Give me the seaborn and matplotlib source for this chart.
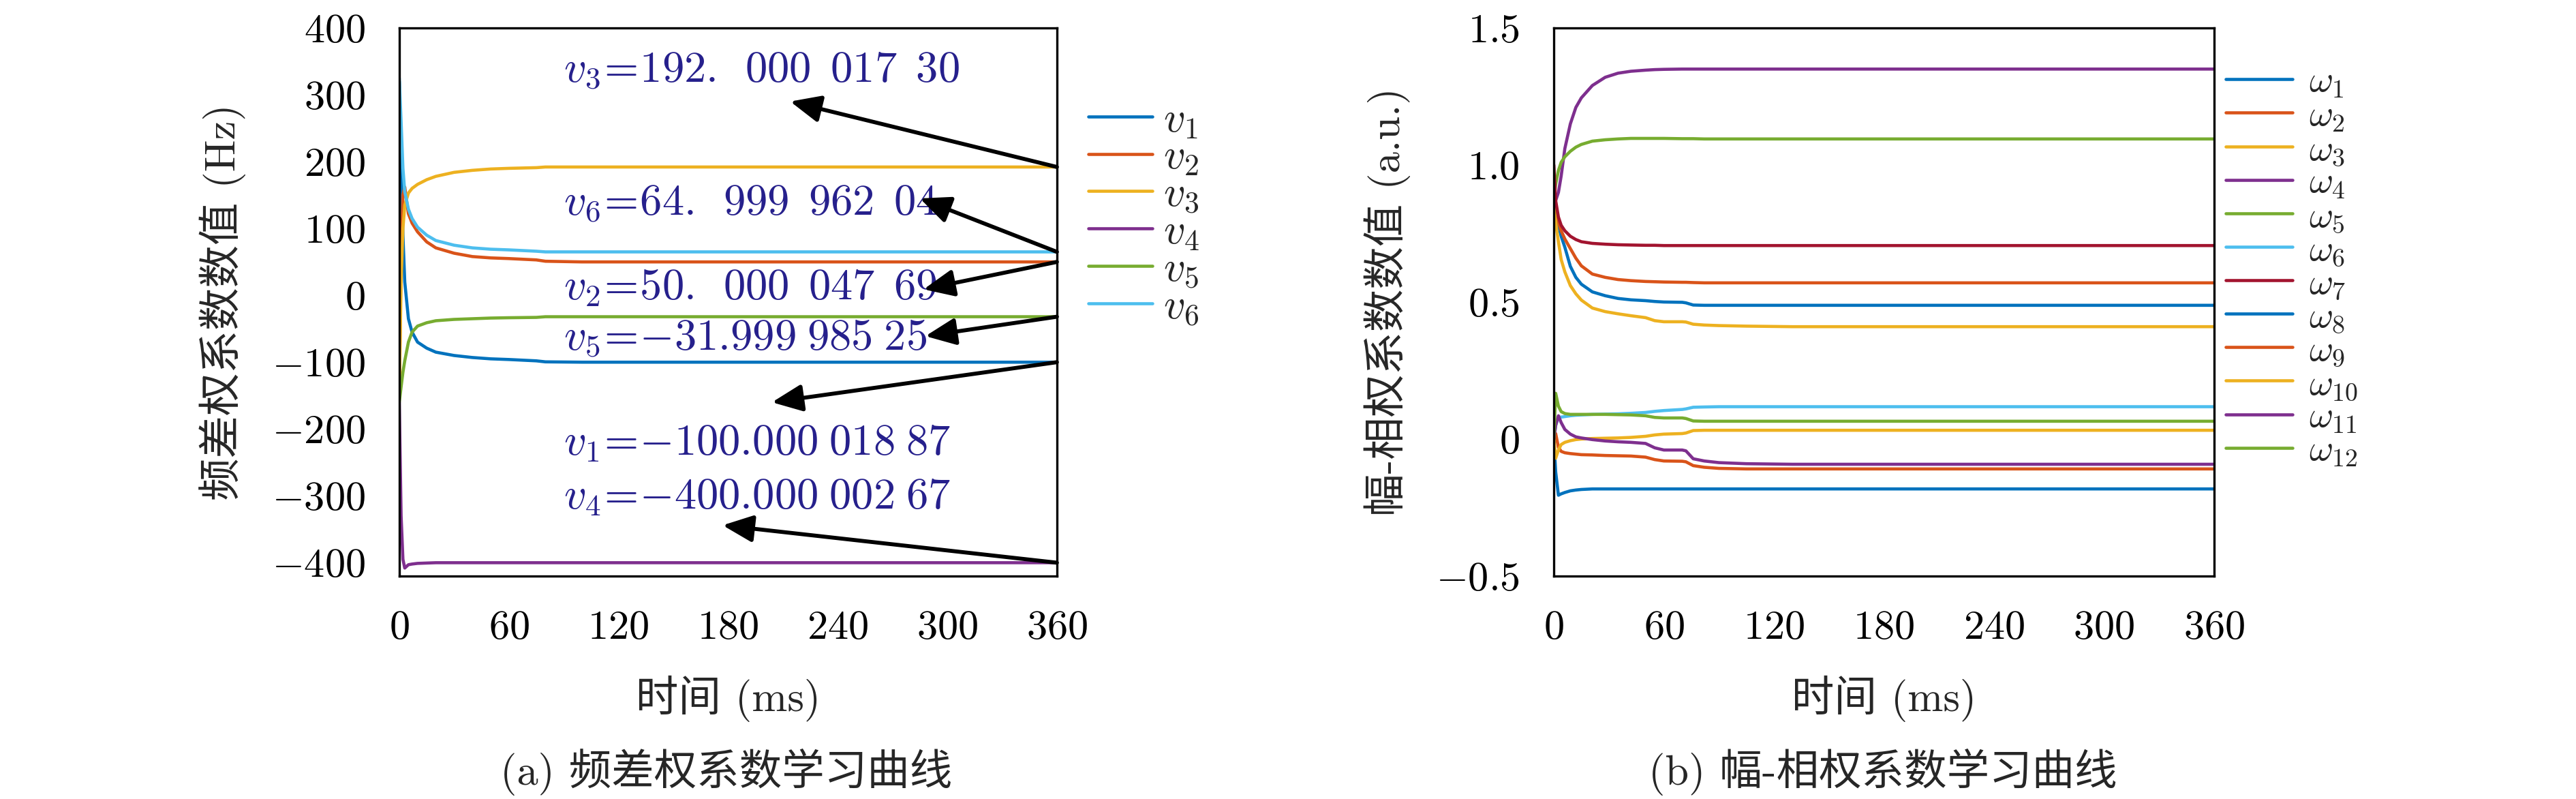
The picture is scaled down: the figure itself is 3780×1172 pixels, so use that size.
import numpy as np
import pandas as pd
import matplotlib
matplotlib.use('Agg')
import matplotlib.pyplot as plt
import seaborn as sns

# MATLAB default colour order (7 colours, then it repeats)
matlab_colors = ['#0072BD', '#D95319', '#EDB120', '#7E2F8E', '#77AC30', '#4DBEEE', '#A2142F']

# ---------------- (a) frequency-difference weights ----------------
t_a = [0, 1, 2, 3, 5, 7, 10, 15, 20, 30, 40, 50, 60, 75, 80, 100, 150, 360]
v1 = [320, 200, 90, 20, -35, -55, -70, -79, -85, -90, -93, -95, -96, -98, -99.5, -100, -100, -100]
v2 = [-150, 60, 150, 162, 122, 108, 95, 80, 71, 63, 58, 56, 55, 53, 51, 50, 50, 50]
v3 = [-150, 20, 100, 135, 153, 160, 166, 173, 178, 184, 187, 189, 190, 191, 192, 192, 192, 192]
v4 = [-160, -330, -395, -408, -403, -402, -401, -400.5, -400, -400, -400, -400, -400, -400, -400, -400, -400, -400]
v5 = [-160, -137, -115, -98, -70, -55, -46, -41, -38, -36, -35, -34, -33.5, -33, -32, -32, -32, -32]
v6 = [325, 260, 190, 155, 129, 115, 102, 90, 82, 75, 71, 69, 68, 66, 65, 65, 65, 65]
names_a = ['$v_1$', '$v_2$', '$v_3$', '$v_4$', '$v_5$', '$v_6$']
yticks_a = [-400, -300, -200, -100, 0, 100, 200, 300, 400]

# ---------------- (b) amplitude-phase weights ----------------
t_b = [0, 1, 2.5, 4, 6, 9, 12, 15, 21, 28, 35, 42, 50, 55, 60, 70, 72, 76, 82, 90, 105, 130, 360]
w1 = [0.85, 0.82, 0.78, 0.74, 0.70, 0.63, 0.59, 0.565, 0.537, 0.523, 0.513, 0.508, 0.505, 0.502, 0.500,
      0.499, 0.497, 0.489, 0.488, 0.488, 0.488, 0.488, 0.488]
w2 = [0.85, 0.82, 0.79, 0.76, 0.73, 0.695, 0.66, 0.632, 0.602, 0.590, 0.582, 0.578, 0.575, 0.574, 0.573,
      0.572, 0.572, 0.571, 0.570, 0.570, 0.570, 0.570, 0.570]
w3 = [0.85, 0.79, 0.72, 0.655, 0.61, 0.56, 0.53, 0.507, 0.478, 0.465, 0.457, 0.450, 0.443, 0.432, 0.428,
      0.428, 0.427, 0.419, 0.416, 0.414, 0.412, 0.410, 0.410]
w4 = [0.85, 0.87, 0.90, 0.96, 1.06, 1.15, 1.21, 1.245, 1.29, 1.32, 1.335, 1.342, 1.346, 1.348, 1.349,
      1.350, 1.350, 1.350, 1.350, 1.350, 1.350, 1.350, 1.350]
w5 = [0.88, 0.93, 0.98, 1.01, 1.03, 1.05, 1.065, 1.075, 1.087, 1.092, 1.095, 1.097, 1.097, 1.097, 1.097,
      1.096, 1.096, 1.096, 1.095, 1.095, 1.095, 1.095, 1.095]
w6 = [0.0, 0.05, 0.08, 0.08, 0.082, 0.085, 0.087, 0.088, 0.090, 0.091, 0.092, 0.094, 0.097, 0.101, 0.104,
      0.108, 0.110, 0.116, 0.117, 0.118, 0.118, 0.118, 0.118]
w7 = [1.0, 0.87, 0.81, 0.78, 0.76, 0.74, 0.728, 0.72, 0.714, 0.711, 0.709, 0.708, 0.707, 0.707, 0.706,
      0.706, 0.706, 0.706, 0.706, 0.706, 0.706, 0.706, 0.706]
w8 = [0.0, -0.12, -0.205, -0.20, -0.195, -0.189, -0.186, -0.184, -0.182, -0.182, -0.182, -0.182, -0.182,
      -0.182, -0.182, -0.182, -0.182, -0.182, -0.182, -0.182, -0.182, -0.182, -0.182]
w9 = [0.0, 0.02, -0.03, -0.045, -0.05, -0.053, -0.055, -0.057, -0.058, -0.060, -0.061, -0.062, -0.066,
      -0.075, -0.080, -0.081, -0.083, -0.097, -0.103, -0.107, -0.109, -0.109, -0.109]
w10 = [0.0, -0.07, -0.04, -0.02, -0.012, -0.006, -0.002, 0.0, 0.002, 0.003, 0.004, 0.006, 0.010, 0.015,
       0.018, 0.020, 0.022, 0.031, 0.032, 0.032, 0.032, 0.032, 0.032]
w11 = [0.0, 0.05, 0.085, 0.06, 0.035, 0.018, 0.008, 0.004, -0.002, -0.007, -0.010, -0.012, -0.016, -0.032,
       -0.040, -0.040, -0.043, -0.072, -0.080, -0.086, -0.090, -0.092, -0.092]
w12 = [0.0, 0.167, 0.12, 0.10, 0.093, 0.09, 0.09, 0.09, 0.09, 0.09, 0.089, 0.088, 0.085, 0.079, 0.077,
       0.077, 0.075, 0.066, 0.065, 0.065, 0.065, 0.065, 0.065]
names_b = ['$\\omega_{%d}$' % i for i in range(1, 13)]
yticks_b = [-0.5, 0, 0.5, 1.0, 1.5]
yticklabels_b = ['$-0.5$', '$0$', '$0.5$', '$1.0$', '$1.5$']

xticks = [0, 60, 120, 180, 240, 300, 360]

# text shown in panel (a): label, text position, arrow head, series index
notes_a = [
    ('$v_3\\!=\\!192.\\enspace000\\enspace017\\enspace30$', (90, 335), (214, 290), 2),
    ('$v_6\\!=\\!64.\\enspace999\\enspace962\\enspace04$', (90, 137), (285, 145), 5),
    ('$v_2\\!=\\!50.\\enspace000\\enspace047\\enspace69$', (90, 11), (287, 9), 1),
    ('$v_5\\!=\\!{-}31.999\\;985\\;25$', (90, -65), (288, -61), 4),
    ('$v_1\\!=\\!{-}100.000\\;018\\;87$', (90, -222), (204, -160), 0),
    ('$v_4\\!=\\!{-}400.000\\;002\\;67$', (90, -302), (177, -344), 3),
]

sns.set_style('white')
plt.rcParams['font.family'] = ['cmr10', 'Noto Sans CJK SC', 'DejaVu Sans']
plt.rcParams['mathtext.fontset'] = 'cm'
plt.rcParams['axes.unicode_minus'] = False
plt.rcParams['axes.linewidth'] = 0.8
plt.rcParams['axes.edgecolor'] = 'black'

fig = plt.figure(figsize=(12.6, 3.9067), dpi=300)
ax_a = fig.add_axes([0.155, 0.279, 0.2553, 0.686])
ax_b = fig.add_axes([0.6032, 0.279, 0.2563, 0.686])

df_a = pd.DataFrame({'t': t_a, names_a[0]: v1, names_a[1]: v2, names_a[2]: v3,
                     names_a[3]: v4, names_a[4]: v5, names_a[5]: v6})
long_a = df_a.melt(id_vars='t', var_name='series', value_name='val')
sns.lineplot(data=long_a, x='t', y='val', hue='series', hue_order=names_a,
             palette=matlab_colors[:6], linewidth=1.1, ax=ax_a)

series_b = [w1, w2, w3, w4, w5, w6, w7, w8, w9, w10, w11, w12]
df_b = pd.DataFrame({'t': t_b})
for name, vals in zip(names_b, series_b):
    df_b[name] = vals
long_b = df_b.melt(id_vars='t', var_name='series', value_name='val')
palette_b = [matlab_colors[i % 7] for i in range(12)]
sns.lineplot(data=long_b, x='t', y='val', hue='series', hue_order=names_b,
             palette=palette_b, linewidth=1.1, ax=ax_b)

for ax in (ax_a, ax_b):
    ax.set_xlim(0, 360)
    ax.set_xticks(xticks)
    ax.set_xticklabels(['$%d$' % x for x in xticks])
    ax.tick_params(direction='in', length=2.4, width=0.8, pad=12, labelsize=14.5,
                   top=False, right=False, colors='black')
    for s in ax.spines.values():
        s.set_visible(True)
        s.set_color('black')
        s.set_linewidth(0.8)
    ax.set_xlabel('时间 (ms)', fontsize=15, labelpad=10)

ax_a.set_ylim(-420, 400)
ax_a.set_yticks(yticks_a)
ax_a.set_yticklabels(['$%d$' % y for y in yticks_a])
ax_a.set_ylabel('频差权系数数值 (Hz)', fontsize=15, labelpad=9)

ax_b.set_ylim(-0.5, 1.5)
ax_b.set_yticks(yticks_b)
ax_b.set_yticklabels(yticklabels_b)
ax_b.set_ylabel('幅-相权系数数值 (a.u.)', fontsize=15, labelpad=9)

# annotations with arrows from the right edge of panel (a)
all_a = [v1, v2, v3, v4, v5, v6]
for label, txy, head, idx in notes_a:
    ax_a.text(txy[0], txy[1], label, color='#26208C', fontsize=15.5, ha='left', va='center')
    ax_a.annotate('', xy=head, xytext=(t_a[-1], all_a[idx][-1]),
                  arrowprops=dict(arrowstyle='-|>,head_length=0.9,head_width=0.4',
                                  color='black', lw=1.4, shrinkA=0, shrinkB=0),
                  annotation_clip=False)

h, l = ax_a.get_legend_handles_labels()
ax_a.legend(h, l, loc='upper left', bbox_to_anchor=(1.048, 0.865), frameon=False,
            fontsize=15, handlelength=1.5, handletextpad=0.25, labelspacing=-0.03,
            borderaxespad=0, borderpad=0)
h, l = ax_b.get_legend_handles_labels()
ax_b.legend(h, l, loc='upper left', bbox_to_anchor=(1.018, 0.93), frameon=False,
            fontsize=13, handlelength=1.8, handletextpad=0.45, labelspacing=0.0,
            borderaxespad=0, borderpad=0)

fig.text(0.282, 0.034, '(a) 频差权系数学习曲线', ha='center', va='center', fontsize=15)
fig.text(0.731, 0.034, '(b) 幅-相权系数学习曲线', ha='center', va='center', fontsize=15)

fig.savefig('out.png', dpi=300, facecolor='white')
